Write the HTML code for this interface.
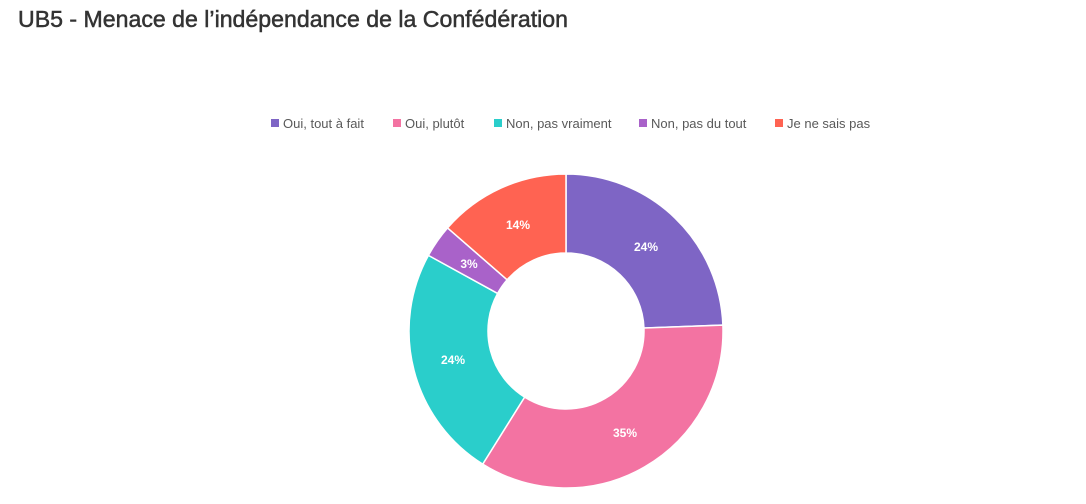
<!DOCTYPE html>
<html><head><meta charset="utf-8"><style>
html,body{margin:0;padding:0;background:#fff;width:1086px;height:504px;overflow:hidden}
svg{display:block}
</style></head><body>
<svg id="s" width="1086" height="504" xmlns="http://www.w3.org/2000/svg">
<text x="18" y="27" font-family="Liberation Sans, sans-serif" font-size="23" fill="#333" stroke="#333" stroke-width="0.5" textLength="550" lengthAdjust="spacingAndGlyphs">UB5 - Menace de l’indépendance de la Confédération</text>
<g font-family="Liberation Sans, sans-serif" font-size="13" fill="#595959">
<rect x="271" y="119" width="8" height="8" fill="#7E65C5"/><text x="283" y="128">Oui, tout à fait</text>
<rect x="393" y="119" width="8" height="8" fill="#F373A2"/><text x="405" y="128">Oui, plutôt</text>
<rect x="494" y="119" width="8" height="8" fill="#2ACECB"/><text x="506" y="128">Non, pas vraiment</text>
<rect x="639" y="119" width="8" height="8" fill="#A962C9"/><text x="651" y="128">Non, pas du tout</text>
<rect x="775" y="119" width="8" height="8" fill="#FF6352"/><text x="787" y="128">Je ne sais pas</text>
</g>
<g id="d"></g>
<g font-family="Liberation Sans, sans-serif" font-size="12" font-weight="bold" fill="#fff" text-anchor="middle">
<text x="646" y="251">24%</text>
<text x="625" y="437">35%</text>
<text x="453" y="364">24%</text>
<text x="469" y="268">3%</text>
<text x="518" y="229">14%</text>
</g>
</svg>
<script>
var cx=566,cy=331,R=157,r=78;
var segs=[[0,0.244,"#7E65C5"],[0.244,0.589,"#F373A2"],[0.589,0.830,"#2ACECB"],[0.830,0.864,"#A962C9"],[0.864,1,"#FF6352"]];
function pt(f,rad){var a=f*2*Math.PI;return [cx+rad*Math.sin(a),cy-rad*Math.cos(a)];}
var g=document.getElementById("d"),h="";
segs.forEach(function(s){var a=pt(s[0],R),b=pt(s[1],R),c=pt(s[1],r),d=pt(s[0],r);var l=(s[1]-s[0])>0.5?1:0;
h+='<path d="M'+a+' A'+R+' '+R+' 0 '+l+' 1 '+b+' L'+c+' A'+r+' '+r+' 0 '+l+' 0 '+d+' Z" fill="'+s[2]+'" stroke="#fff" stroke-width="1.5"/>';});
g.innerHTML=h;
</script>
</body></html>
